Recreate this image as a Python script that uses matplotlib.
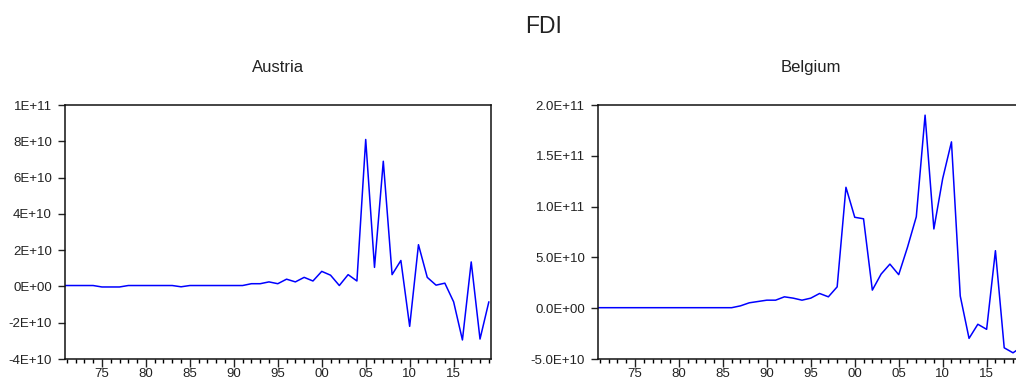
import matplotlib
matplotlib.use("Agg")
import matplotlib.pyplot as plt
from matplotlib.ticker import MultipleLocator, FixedLocator, FixedFormatter

plt.rcParams['font.family'] = ['Liberation Sans', 'DejaVu Sans']

years = list(range(1970, 2020))

# Austria FDI (USD)
austria = [5e8, 5e8, 5e8, 5e8, 5e8, -3e8, -3e8, -3e8, 5e8, 5e8,
           5e8, 5e8, 5e8, 5e8, -2e8, 5e8, 5e8, 5e8, 5e8, 5e8,
           5e8, 5e8, 1.5e9, 1.5e9, 2.5e9, 1.5e9, 4.0e9, 2.5e9, 5.0e9, 3.0e9,
           8.3e9, 6.2e9, 0.5e9, 6.5e9, 3.0e9, 8.1e10, 1.05e10, 6.9e10, 6.5e9, 1.43e10,
           -2.2e10, 2.3e10, 5.0e9, 0.7e9, 1.8e9, -8.5e9, -2.95e10, 1.35e10, -2.9e10, -8.6e9]

# Belgium FDI (USD)
belgium = [5e8, 5e8, 5e8, 5e8, 5e8, 5e8, 5e8, 5e8, 5e8, 5e8,
           5e8, 5e8, 5e8, 5e8, 5e8, 5e8, 5e8, 2.3e9, 5.3e9, 6.6e9,
           7.9e9, 7.9e9, 1.12e10, 9.9e9, 7.9e9, 9.9e9, 1.45e10, 1.12e10, 2.1e10, 1.19e11,
           8.95e10, 8.8e10, 1.78e10, 3.36e10, 4.34e10, 3.3e10, 6.0e10, 9.0e10, 1.9e11, 7.8e10,
           1.275e11, 1.637e11, 1.2e10, -2.97e10, -1.58e10, -2.08e10, 5.66e10, -3.9e10, -4.39e10, -3.8e10]

xtick_years = [1975, 1980, 1985, 1990, 1995, 2000, 2005, 2010, 2015]
xtick_labels = ['75', '80', '85', '90', '95', '00', '05', '10', '15']

austria_yticks = [-4e10, -2e10, 0, 2e10, 4e10, 6e10, 8e10, 1e11]
austria_ylabels = ['-4E+10', '-2E+10', '0E+00', '2E+10', '4E+10', '6E+10', '8E+10', '1E+11']
belgium_yticks = [-5e10, 0, 5e10, 1e11, 1.5e11, 2e11]
belgium_ylabels = ['-5.0E+10', '0.0E+00', '5.0E+10', '1.0E+11', '1.5E+11', '2.0E+11']

W, H = 1016, 385
fig = plt.figure(figsize=(W / 100, H / 100), dpi=100)
fig.patch.set_facecolor('white')


def panel(left_px, name, values, yticks, ylabels):
    ax = fig.add_axes([left_px / W, (H - 359) / H, 426 / W, 254 / H])
    ax.plot(years, values, color='#0000FF', lw=1.1)
    ax.set_xlim(1970.8, 2019.25)
    ax.set_ylim(yticks[0], yticks[-1])
    ax.xaxis.set_major_locator(FixedLocator(xtick_years))
    ax.xaxis.set_major_formatter(FixedFormatter(xtick_labels))
    ax.xaxis.set_minor_locator(MultipleLocator(1))
    ax.yaxis.set_major_locator(FixedLocator(yticks))
    ax.yaxis.set_major_formatter(FixedFormatter(ylabels))
    ax.tick_params(axis='x', which='major', direction='out', length=5.5, width=1.0,
                   labelsize=9.5, pad=1.0, colors='#222222')
    ax.tick_params(axis='x', which='minor', direction='out', length=3, width=1.0)
    ax.tick_params(axis='y', which='major', direction='out', length=5, width=1.0,
                   labelsize=9.5, pad=4.5, colors='#222222')
    for s in ax.spines.values():
        s.set_linewidth(1.1)
        s.set_color('#111111')
    fig.text((left_px + 213) / W, 1 - 71.7 / H, name, ha='center', va='baseline',
             fontsize=12, color='#222222')
    return ax


panel(65, 'Austria', austria, austria_yticks, austria_ylabels)
panel(598, 'Belgium', belgium, belgium_yticks, belgium_ylabels)

fig.text(543.5 / W, 1 - 33.3 / H, 'FDI', ha='center', va='baseline', fontsize=16.5,
         color='#222222')

fig.savefig('out.png', dpi=100)
